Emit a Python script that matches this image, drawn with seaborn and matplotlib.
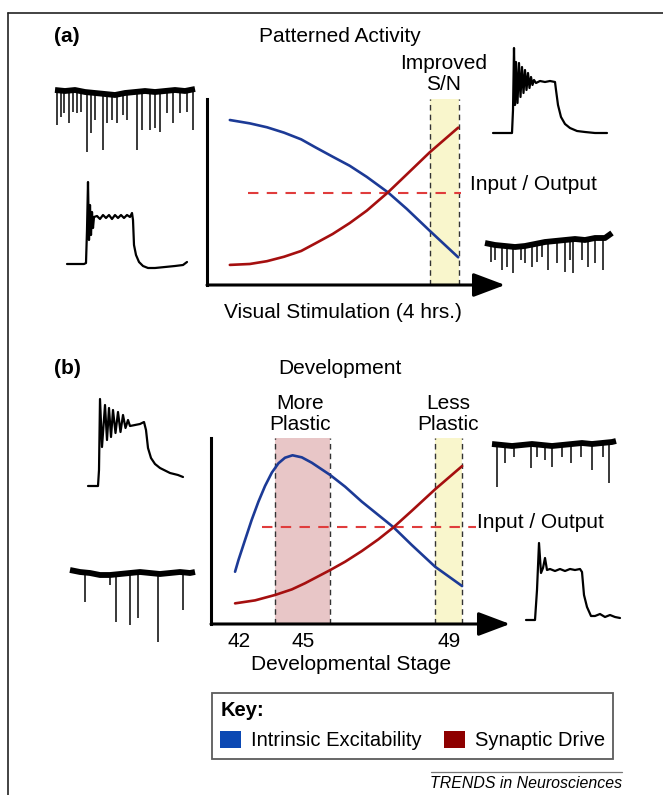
import numpy as np
import pandas as pd
import seaborn as sns
import matplotlib
matplotlib.use("Agg")
import matplotlib.pyplot as plt
from matplotlib.patches import Patch
from matplotlib.lines import Line2D

# ---- data: schematic curves ----
# (a) patterned activity, x in hours of visual stimulation, y in relative level
hours = [0, 0.35, 0.65, 0.95, 1.25, 1.5, 1.8, 2.1, 2.4, 2.77, 3.1, 3.5, 4.0]
excit_a = [0.887, 0.869, 0.848, 0.819, 0.783, 0.740, 0.690, 0.641, 0.581, 0.498, 0.409, 0.292, 0.149]
drive_a = [0.108, 0.113, 0.128, 0.152, 0.183, 0.224, 0.274, 0.333, 0.400, 0.498, 0.595, 0.713, 0.846]
io_a = 0.493
sn_band = (3.51, 4.01)

# (b) development, x in normalised developmental time
dev_excit = [0, 0.015, 0.044, 0.073, 0.103, 0.132, 0.162, 0.191, 0.220, 0.253, 0.294, 0.338,
             0.419, 0.485, 0.558, 0.631, 0.698, 0.778, 0.881, 1.0]
excit_b = [0.281, 0.344, 0.452, 0.559, 0.658, 0.742, 0.814, 0.864, 0.894, 0.907, 0.896, 0.867,
           0.801, 0.738, 0.658, 0.586, 0.520, 0.425, 0.308, 0.204]
dev_drive = [0, 0.088, 0.176, 0.250, 0.308, 0.419, 0.485, 0.558, 0.631, 0.698, 0.778, 0.881, 1.0]
drive_b = [0.111, 0.127, 0.156, 0.186, 0.219, 0.290, 0.335, 0.392, 0.455, 0.520, 0.608, 0.724, 0.849]
io_b = 0.523
more_band = (0.176, 0.419)
less_band = (0.881, 1.0)
stage_labels = ["42", "45", "49"]
stage_pos = [0.018, 0.30, 0.943]

# ---- data: example recordings ----
# step responses: time (ms), membrane potential (mV)
t_step_a1 = [0, 68, 76, 80, 84, 88, 92, 96, 100, 104, 108, 120, 132, 144, 156, 168, 180, 192, 204,
             216, 228, 240, 252, 260, 264, 268, 276, 288, 304, 324, 352, 392, 432, 464, 480]
v_step_a1 = [-69.4, -69.4, -68.8, -49.0, -20.2, -55.0, -34.0, -52.0, -38.2, -47.8, -41.2, -40.6,
             -42.4, -40.0, -41.8, -40.0, -42.4, -40.0, -41.8, -40.0, -41.8, -40.0, -41.2, -38.8,
             -43.0, -58.0, -64.0, -68.2, -70.6, -71.8, -71.8, -71.2, -70.6, -70.0, -68.2]

t_step_a2 = [0, 76, 80, 84, 88, 92, 98, 104, 110, 116, 122, 128, 134, 140, 146, 152, 158, 164, 172,
             188, 208, 228, 248, 252, 260, 272, 288, 308, 336, 368, 408, 456]
v_step_a2 = [-70, -70, -56.2, -19, -53.2, -27.4, -52, -28, -48.4, -30.4, -46, -32.2, -44.2, -34,
             -43, -36.4, -41.2, -38.2, -40, -38.8, -39.4, -38.8, -39.4, -44.2, -53.2, -60.4, -64.6,
             -67, -68.8, -69.4, -70, -70]

t_step_b1 = [0, 40, 44, 48, 56, 68, 76, 84, 92, 100, 110, 120, 130, 140, 150, 160, 168, 188, 208,
             224, 232, 240, 252, 268, 288, 328, 360, 380]
v_step_b1 = [-70, -70, -60.4, -17.8, -46.6, -21.4, -42.4, -23.2, -40.6, -24.4, -38.2, -25.6, -37.6,
             -27.4, -35.2, -30.4, -34, -33.4, -32.8, -31.6, -36.4, -47.2, -53.2, -56.8, -59.2,
             -62.2, -63.4, -64.6]

t_step_b2 = [0, 36, 44, 52, 60, 68, 76, 84, 96, 116, 136, 156, 176, 196, 216, 224, 232, 244, 260,
             276, 296, 316, 336, 356, 376]
v_step_b2 = [-70, -70, -52, -23.8, -41.8, -38.8, -32.8, -40, -39.4, -40.6, -39.4, -40.6, -39.4,
             -40, -39.4, -41.2, -55, -62.2, -67.6, -67.6, -66.4, -68.2, -67, -68.2, -68.8]

# spontaneous minis: baseline (ms, pA) and event times / peak levels
tb_mini_a1 = list(range(0, 1500, 100))
base_mini_a1 = [2, 0, 2, -2, -4, -6, -8, -4, -2, 0, -2, 0, 2, 0, 4]
ts_mini_a1 = [20, 60, 90, 140, 180, 220, 260, 320, 360, 400, 480, 520, 570, 620, 680, 720, 820,
              870, 950, 1000, 1050, 1120, 1180, 1250, 1320, 1380]
pk_mini_a1 = [-68, -52, -44, -64, -42, -44, -42, -122, -84, -58, -118, -64, -58, -64, -48, -58,
              -118, -78, -78, -74, -82, -44, -64, -44, -42, -78]

tb_mini_a2 = [0, 100, 200, 300, 400, 500, 600, 700, 800, 900, 1000, 1100, 1200, 1270]
base_mini_a2 = [0, -4, -6, -8, -6, -2, 2, 4, 6, 8, 6, 10, 10, 20]
ts_mini_a2 = [60, 100, 170, 220, 280, 360, 400, 470, 520, 570, 630, 720, 800, 850, 880, 970, 1030,
              1100, 1180]
pk_mini_a2 = [-38, -34, -54, -48, -60, -34, -40, -48, -38, -28, -54, -40, -58, -34, -60, -34, -48,
              -40, -54]

tb_mini_b1 = [0, 100, 200, 300, 400, 500, 600, 700, 800, 900, 1000, 1100, 1200, 1250]
base_mini_b1 = [6, 2, 0, -4, -4, -2, 0, 2, 0, -2, 0, 2, 0, 2]
ts_mini_b1 = [150, 400, 460, 600, 680, 880, 1130]
pk_mini_b1 = [-58, -24, -98, -104, -90, -138, -74]

tb_mini_b2 = [0, 100, 200, 300, 400, 500, 600, 700, 800, 900, 1000, 1100, 1200, 1240]
base_mini_b2 = [2, 0, -2, 0, 2, 0, -2, 0, 2, 4, 2, 4, 6, 8]
ts_mini_b2 = [50, 130, 220, 390, 450, 530, 600, 700, 790, 890, 1000, 1110, 1170]
pk_mini_b2 = [-84, -36, -24, -46, -24, -30, -44, -24, -36, -24, -50, -24, -76]

BLUE = "#1c3a96"
RED = "#a50f0f"
DASH_RED = "#e03c3c"
YELLOW = "#f9f6cc"
PINK = "#e8c6c7"

sns.set_theme(style="white")
plt.rcParams["font.family"] = ["Liberation Sans", "DejaVu Sans"]
plt.rcParams["text.color"] = "black"
plt.rcParams["axes.labelcolor"] = "black"

W, H = 663, 795
fig = plt.figure(figsize=(W / 100, H / 100), dpi=100)


def place(x0, y0, x1, y1):
    # axes box given in pixels from the top-left corner
    return fig.add_axes([x0 / W, 1 - y1 / H, (x1 - x0) / W, (y1 - y0) / H])


def ftext(x, y, s, **kw):
    fig.text(x / W, 1 - y / H, s, **kw)


def step_trace(box, t, v):
    ax = place(*box)
    sns.lineplot(x=t, y=v, ax=ax, color="black", lw=1.6, sort=False, estimator=None)
    ax.set_xlim(min(t), max(t))
    ax.set_ylim(min(v), max(v))
    for ln in ax.lines:
        ln.set_clip_on(False)
    ax.axis("off")


def mini_trace(box, tb, base, ts, pk, xlim, ylim):
    ax = place(*box)
    ax.vlines(ts, np.interp(ts, tb, base), pk, color="#2a2a2a", lw=1.3)
    sns.lineplot(x=tb, y=base, ax=ax, color="black", lw=4.2, estimator=None,
                 solid_capstyle="butt")
    ax.set_xlim(*xlim)
    ax.set_ylim(*ylim)
    for ln in ax.lines:
        ln.set_clip_on(False)
    ax.axis("off")


def style_axes(ax):
    for s in ["top", "right", "bottom"]:
        ax.spines[s].set_visible(False)
    ax.spines["left"].set_color("black")
    ax.spines["left"].set_linewidth(2.2)
    ax.set_yticks([])
    ax.annotate("", xy=(1, 0), xycoords="axes fraction", xytext=(0, 0),
                textcoords="axes fraction",
                arrowprops=dict(arrowstyle="-|>,head_length=0.85,head_width=0.32",
                                mutation_scale=23, lw=2.2, color="black",
                                shrinkA=0, shrinkB=0))


def band(ax, lo, hi, color):
    ax.axvspan(lo, hi, color=color, zorder=0, lw=0)
    for x in (lo, hi):
        ax.axvline(x, color="#333333", lw=1.0, ls=(0, (4, 3)), zorder=1)


# ---- panel (a) ----
axA = place(207, 99, 505, 285)
band(axA, *sn_band, YELLOW)
axA.hlines(io_a, 0.32, 4.05, color=DASH_RED, lw=1.5, ls=(0, (5, 4)), zorder=2)
sns.lineplot(x=hours, y=excit_a, ax=axA, color=BLUE, lw=1.9, zorder=3)
sns.lineplot(x=hours, y=drive_a, ax=axA, color=RED, lw=1.9, zorder=3)
axA.set_xlim(-0.40, 4.82)
axA.set_ylim(0, 1)
axA.set_xticks([])
style_axes(axA)
axA.set_xlabel("Visual Stimulation (4 hrs.)", fontsize=15)
axA.xaxis.set_label_coords(0.456, -0.095)

ftext(54, 37, "(a)", fontsize=15, fontweight="bold", va="center")
ftext(340, 37, "Patterned Activity", fontsize=15, ha="center", va="center")
ftext(444, 74, "Improved\nS/N", fontsize=15, ha="center", va="center", linespacing=1.1)
ftext(470, 185, "Input / Output", fontsize=15, va="center")

# ---- panel (b) ----
axB = place(211, 438, 510, 624)
band(axB, *more_band, PINK)
band(axB, *less_band, YELLOW)
axB.hlines(io_b, 0.117, 1.06, color=DASH_RED, lw=1.5, ls=(0, (5, 4)), zorder=2)
sns.lineplot(x=dev_excit, y=excit_b, ax=axB, color=BLUE, lw=1.9, zorder=3)
sns.lineplot(x=dev_drive, y=drive_b, ax=axB, color=RED, lw=1.9, zorder=3)
axB.set_xlim(-0.106, 1.211)
axB.set_ylim(0, 1)
axB.set_xticks(stage_pos)
axB.set_xticklabels(stage_labels)
axB.tick_params(axis="x", length=0, pad=6, labelsize=15, labelcolor="black")
style_axes(axB)
axB.set_xlabel("Developmental Stage", fontsize=15)
axB.xaxis.set_label_coords(0.468, -0.165)

ftext(54, 369, "(b)", fontsize=15, fontweight="bold", va="center")
ftext(340, 368, "Development", fontsize=15, ha="center", va="center")
ftext(300, 414, "More\nPlastic", fontsize=15, ha="center", va="center", linespacing=1.1)
ftext(448, 414, "Less\nPlastic", fontsize=15, ha="center", va="center", linespacing=1.1)
ftext(477, 523, "Input / Output", fontsize=15, va="center")

# ---- recordings ----
mini_trace((55, 85, 197, 152), tb_mini_a1, base_mini_a1, ts_mini_a1, pk_mini_a1, (0, 1420), (-122, 12))
step_trace((67, 182, 187, 268), t_step_a1, v_step_a1)
step_trace((493, 48, 607, 133), t_step_a2, v_step_a2)
mini_trace((485, 230, 612, 273), tb_mini_a2, base_mini_a2, ts_mini_a2, pk_mini_a2, (0, 1270), (-60, 26))

step_trace((88, 399, 183, 486), t_step_b1, v_step_b1)
mini_trace((70, 566, 195, 642), tb_mini_b1, base_mini_b1, ts_mini_b1, pk_mini_b1, (0, 1250), (-138, 14))
mini_trace((492, 438, 616, 487), tb_mini_b2, base_mini_b2, ts_mini_b2, pk_mini_b2, (0, 1240), (-84, 14))
step_trace((526, 543, 620, 620), t_step_b2, v_step_b2)

# ---- key ----
handles = [Patch(facecolor="#0b48b3", edgecolor="none", label="Intrinsic Excitability"),
           Patch(facecolor="#8e0000", edgecolor="none", label="Synaptic Drive")]
leg = fig.legend(handles=handles, title="Key:", ncol=2, loc="upper left",
                 bbox_to_anchor=(212 / W, 1 - 693 / H), borderaxespad=0, frameon=True,
                 fancybox=False, edgecolor="#333333", fontsize=14.5, alignment="left",
                 title_fontproperties={"weight": "bold", "size": 14.5},
                 handlelength=1.0, handleheight=0.95, handletextpad=0.5,
                 columnspacing=1.15, borderpad=0.42)
leg.get_frame().set_linewidth(1.3)

# ---- frame and credit ----
fig.add_artist(Line2D([8 / W, 1], [1 - 13 / H, 1 - 13 / H], color="#222222", lw=1.2))
fig.add_artist(Line2D([8 / W, 8 / W], [0, 1 - 13 / H], color="#222222", lw=1.2))
fig.add_artist(Line2D([431 / W, 622 / W], [1 - 772 / H, 1 - 772 / H], color="#777777", lw=0.9))
ftext(526, 784, "TRENDS in Neurosciences", fontsize=11.4, style="italic", ha="center", va="center")

fig.savefig("out.png", dpi=100)
